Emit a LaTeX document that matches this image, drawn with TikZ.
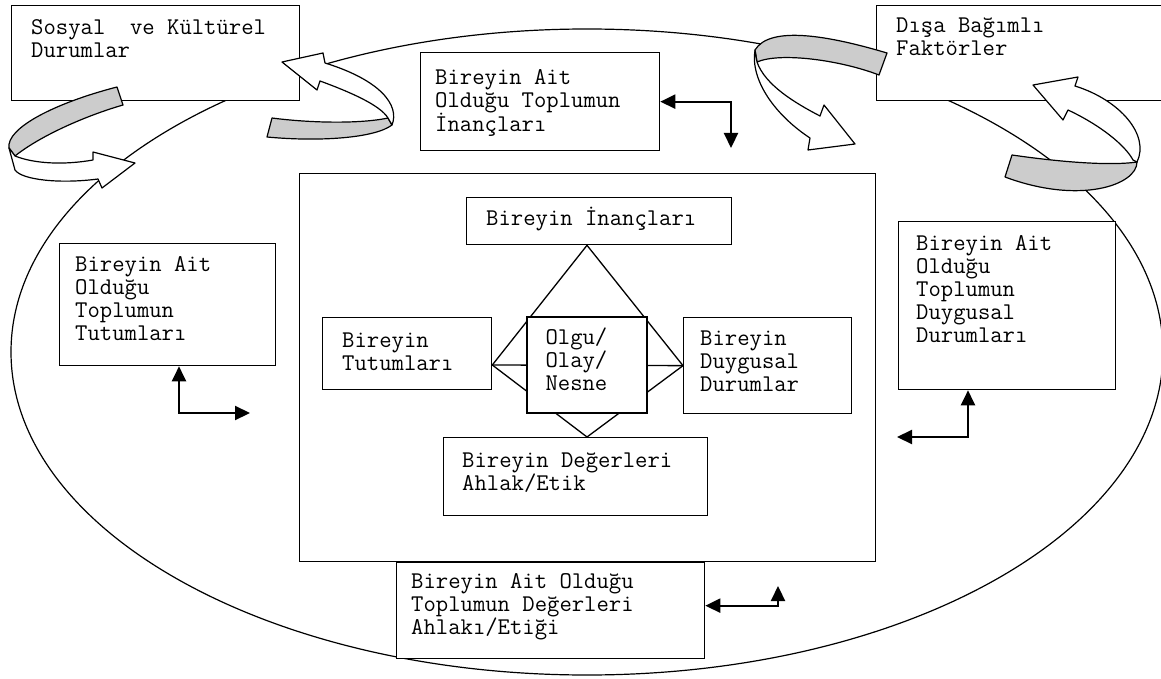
\documentclass[tikz,border=0pt]{standalone}
\usepackage{fontspec}
\usetikzlibrary{arrows.meta}
\definecolor{gri}{RGB}{204,204,204}

\begin{document}
\begin{tikzpicture}[x=1pt,y=-1pt,
    kutu/.style={draw,line width=1.3pt,fill=white,anchor=north west,inner sep=0pt},
    yazi/.style={anchor=base west,align=left,inner sep=0pt,font=\ttfamily\fontsize{24}{23}\selectfont},
    cift/.style={line width=2.2pt,{Triangle[length=15pt,width=14pt]}-{Triangle[length=15pt,width=14pt]}},
    serit/.style={draw,line width=1.2pt,line join=round}]
  \useasboundingbox (0,0) rectangle (1161,679);

  %%%% elips
  \draw[line width=1.2pt] (587,352) ellipse [x radius=576, y radius=323];

  %%%% dis kutular  (yazi: base = son satir)
  \node[kutu,minimum width=288,minimum height=95] (sosyal) at (11,5) {};
  \node[yazi] (sosyal-y) at ([shift={(20,53)}]sosyal.north west) {Sosyal\ \ ve Kültürel\\Durumlar};
  \node[kutu,minimum width=300,minimum height=95] (disa) at (876,5) {};
  \node[yazi] (disa-y) at ([shift={(20,51)}]disa.north west) {Dışa Bağımlı\\Faktörler};

  \node[kutu,minimum width=239,minimum height=98] (tpInanc) at (420,52) {};
  \node[yazi] (tpInanc-y) at ([shift={(15,80)}]tpInanc.north west) {Bireyin Ait\\Olduğu Toplumun\\İnançları};
  \node[kutu,minimum width=216,minimum height=122] (tpTutum) at (59,243) {};
  \node[yazi] (tpTutum-y) at ([shift={(16,97)}]tpTutum.north west) {Bireyin Ait\\Olduğu\\Toplumun\\Tutumları};
  \node[kutu,minimum width=217,minimum height=168] (tpDuygu) at (898,221) {};
  \node[yazi] (tpDuygu-y) at ([shift={(18,121)}]tpDuygu.north west) {Bireyin Ait\\Olduğu\\Toplumun\\Duygusal\\Durumları};
  \node[kutu,minimum width=308,minimum height=96] (tpDeger) at (396,562) {};
  \node[yazi] (tpDeger-y) at ([shift={(15,72)}]tpDeger.north west) {Bireyin Ait Olduğu\\Toplumun Değerleri\\Ahlakı/Etiği};

  %%%% ic kutular
  \node[kutu,minimum width=576,minimum height=388] (buyuk) at (299,173) {};
  \node[kutu,minimum width=265,minimum height=47] (bInanc) at (466,197) {};
  \node[yazi] (bInanc-y) at ([shift={(20,28)}]bInanc.north west) {Bireyin İnançları};
  \node[kutu,minimum width=169,minimum height=72] (bTutum) at (322,317) {};
  \node[yazi] (bTutum-y) at ([shift={(20,53)}]bTutum.north west) {Bireyin\\Tutumları};
  \node[kutu,minimum width=168,minimum height=96] (bDuygu) at (683,317) {};
  \node[yazi] (bDuygu-y) at ([shift={(17,74)}]bDuygu.north west) {Bireyin\\Duygusal\\Durumlar};
  \node[kutu,minimum width=264,minimum height=78] (bDeger) at (443,437) {};
  \node[yazi] (bDeger-y) at ([shift={(19,53)}]bDeger.north west) {Bireyin Değerleri\\Ahlak/Etik};

  %%%% baklava
  \coordinate (merkez) at (587,365);
  \draw[line width=1.3pt] (merkez |- bInanc.south) -- (bTutum.east |- merkez)
    -- (merkez |- bDeger.north) -- (bDuygu.west) -- cycle;
  \draw[line width=1.3pt] (bTutum.east |- merkez) -- (bDuygu.west);
  \node[kutu,anchor=center,minimum width=120,minimum height=96] (olgu) at (merkez) {};
  \node[yazi] (olgu-y) at ([shift={(19,74)}]olgu.north west) {Olgu/\\Olay/\\Nesne};

  %%%% cift oklar
  \coordinate (uc1) at (731,148);
  \coordinate (uc2) at (250,413);
  \coordinate (uc3) at (897,437);
  \coordinate (uc4) at (778,586);
  \draw[cift] (tpInanc.east) -| (uc1);
  \draw[cift] ([xshift=120pt]tpTutum.south west) |- (uc2);
  \draw[cift] ([xshift=70pt]tpDuygu.south west) |- (uc3);
  \draw[cift] ([yshift=5pt]tpDeger.east) -| (uc4);

  %%%% kivrik oklar
  % sol ust
  \draw[serit,fill=gri] (117,87) .. controls (55,103) and (6,128) .. (9,148)
    -- (15,156) .. controls (40,136) and (85,116) .. (123,105) -- cycle;
  \draw[serit,fill=white] (15,156) .. controls (35,164) and (65,165) .. (93,160)
    -- (93,152) -- (135,163) -- (102,188) -- (98,179)
    .. controls (60,184) and (22,180) .. (15,170) -- (9,148) -- cycle;
  % sosyal sag
  \draw[serit,fill=gri] (272,118) .. controls (310,123) and (360,124) .. (388,118)
    -- (392,125) .. controls (375,138) and (320,142) .. (267,137) -- cycle;
  \draw[serit,fill=white] (392,125) .. controls (400,105) and (380,80) .. (325,63)
    -- (323,53) -- (282,62) -- (317,90) -- (320,81)
    .. controls (350,92) and (380,105) .. (388,118) -- cycle;
  % disa sol
  \draw[serit,fill=gri] (887,53) .. controls (830,36) and (770,25) .. (755,50)
    -- (757,62) .. controls (780,52) and (840,60) .. (879,75) -- cycle;
  \draw[serit,fill=white] (755,50) .. controls (750,80) and (775,115) .. (810,138)
    -- (808,150) -- (855,144) -- (824,105) -- (820,116)
    .. controls (795,103) and (765,85) .. (757,62) -- cycle;
  % sag
  \draw[serit,fill=gri] (1012,155) .. controls (1060,162) and (1110,166) .. (1137,162)
    .. controls (1137,185) and (1080,205) .. (1005,177) -- cycle;
  \draw[serit,fill=white] (1137,162) .. controls (1150,135) and (1120,100) .. (1075,86)
    -- (1078,77) -- (1033,85) -- (1063,120) -- (1068,110)
    .. controls (1100,125) and (1125,145) .. (1133,160) -- cycle;
\end{tikzpicture}
\end{document}
